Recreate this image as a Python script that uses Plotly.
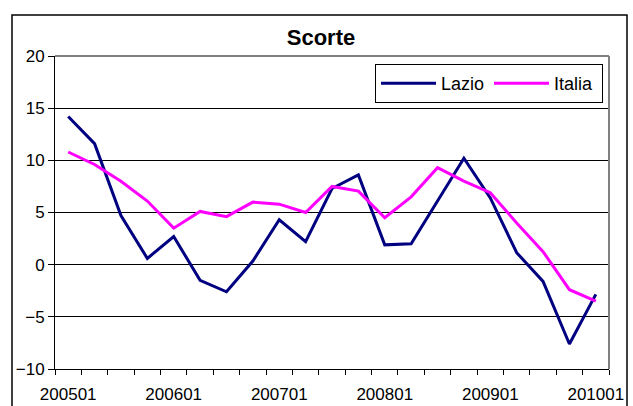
import plotly.graph_objects as go

categories = ["200501", "200502", "200503", "200504",
              "200601", "200602", "200603", "200604",
              "200701", "200702", "200703", "200704",
              "200801", "200802", "200803", "200804",
              "200901", "200902", "200903", "200904",
              "201001"]
lazio = [14.2, 11.6, 4.7, 0.6, 2.7, -1.5, -2.6, 0.35, 4.3, 2.2, 7.3, 8.6,
         1.9, 2.0, 6.1, 10.2, 6.4, 1.15, -1.6, -7.6, -2.85]
italia = [10.8, 9.6, 8.0, 6.1, 3.5, 5.1, 4.6, 6.0, 5.8, 5.0, 7.5, 7.05,
          4.5, 6.5, 9.3, 8.0, 6.9, 4.0, 1.25, -2.4, -3.5]
label_every = 4

W, H = 633, 406
L, R, T, B = 55, 24, 56, 37
pw, ph = W - L - R, H - T - B

x = list(range(len(categories)))
tickvals = x[::label_every]
ticktext = categories[::label_every]

font = "Liberation Sans, Arial, sans-serif"

fig = go.Figure()
fig.add_trace(go.Scatter(x=x, y=lazio, name="Lazio", mode="lines",
                         line=dict(color="#000080", width=3)))
fig.add_trace(go.Scatter(x=x, y=italia, name="Italia", mode="lines",
                         line=dict(color="#FF00FF", width=3)))

def px_x(p):
    return (p - L) / pw

def px_y(p):
    return (H - B - p) / ph

fig.update_layout(
    width=W, height=H,
    margin=dict(l=L, r=R, t=T, b=B, autoexpand=False),
    paper_bgcolor="white", plot_bgcolor="white",
    font=dict(family=font, size=17, color="black"),
    title=dict(text="<b>Scorte</b>", x=321 / W, xanchor="center",
               y=1 - 37 / H, yanchor="middle",
               font=dict(family=font, size=22, color="black")),
    showlegend=True,
    legend=dict(orientation="h", x=px_x(375), y=px_y(64),
                xanchor="left", yanchor="top",
                bordercolor="black", borderwidth=1, bgcolor="white",
                font=dict(family=font, size=18, color="black"),
                itemwidth=55, tracegroupgap=0, entrywidth=43),
    xaxis=dict(range=[-0.5, len(categories) - 0.5],
               tickvals=tickvals, ticktext=ticktext, automargin=False,
               ticks="outside", ticklen=10, tickcolor="rgba(0,0,0,0)",
               showline=True, linecolor="black", linewidth=1,
               showgrid=False, zeroline=False,
               tickfont=dict(family=font, size=17, color="black"),
               minor=dict(tick0=0.5, dtick=1, ticks="outside", ticklen=5,
                          tickcolor="black", tickwidth=1, showgrid=False)),
    yaxis=dict(range=[-10, 20], dtick=5, tick0=0, automargin=False,
               ticks="outside", ticklen=6, tickcolor="black",
               showline=True, linecolor="black", linewidth=1,
               showgrid=True, gridcolor="black", gridwidth=1,
               zeroline=False,
               tickfont=dict(family=font, size=17, color="black")),
    shapes=[
        dict(type="line", xref="paper", yref="paper", x0=0, x1=1, y0=1, y1=1,
             line=dict(color="#808080", width=2), layer="above"),
        dict(type="line", xref="paper", yref="paper", x0=1, x1=1, y0=0, y1=1,
             line=dict(color="#808080", width=2), layer="above"),
        dict(type="rect", xref="paper", yref="paper",
             x0=px_x(12), x1=px_x(627), y0=px_y(430), y1=px_y(15),
             line=dict(color="black", width=1.5), fillcolor="rgba(0,0,0,0)",
             layer="above"),
    ],
)

fig.write_html("out.html",
               config={"displayModeBar": False},
               post_script="document.body.style.margin='0';"
                           "document.body.style.overflow='hidden';")
